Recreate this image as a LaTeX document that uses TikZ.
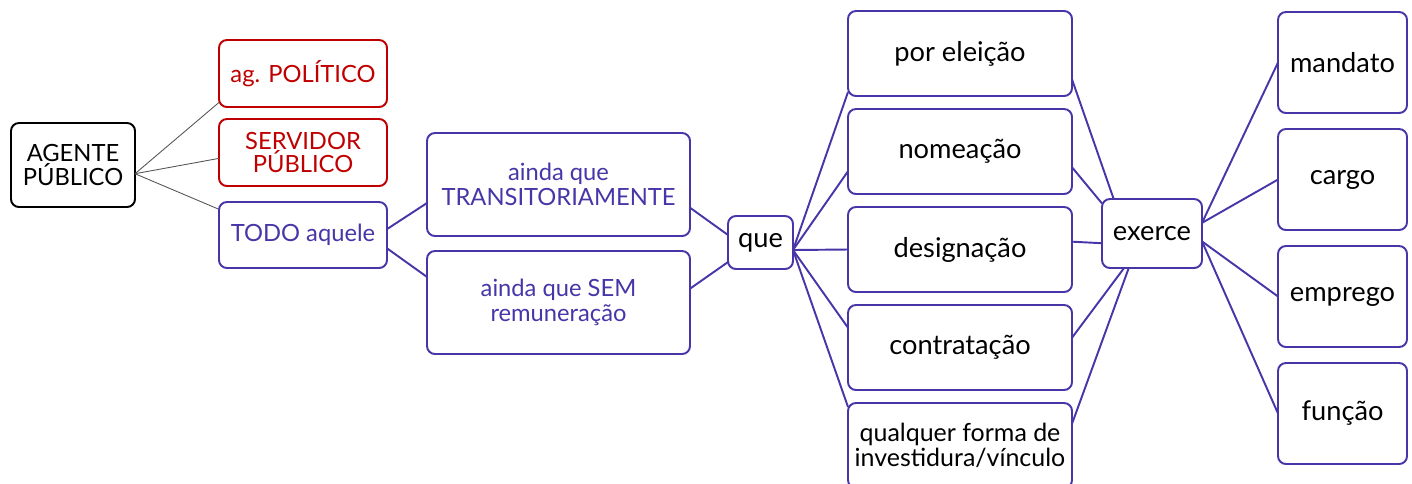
\documentclass[tikz,border=0pt]{standalone}
\usepackage{fontspec}
\setmainfont{Lato}
\usepackage{tikz}
\usetikzlibrary{positioning}
\definecolor{roxo}{RGB}{70,54,168}
\definecolor{vermelho}{RGB}{192,0,0}
\definecolor{traco}{RGB}{85,85,85}
\tikzset{
	caixa/.style={
		draw, rectangle, rounded corners=4.5pt, line width=1.1pt,
		align=center, inner sep=2pt, outer sep=0pt, fill=white
	},
	raiz/.style={
		caixa, draw=black, text=black,
		minimum width=2.48cm, minimum height=1.68cm,
		font=\fontsize{13.5}{13.5}\selectfont
	},
	tipo/.style={
		caixa, draw=vermelho, text=vermelho,
		minimum width=3.36cm, minimum height=1.34cm,
		font=\fontsize{13.5}{13.5}\selectfont
	},
	aquele/.style={
		caixa, draw=roxo, text=roxo,
		minimum width=3.36cm, minimum height=1.32cm,
		font=\fontsize{13.5}{14}\selectfont
	},
	ressalva/.style={
		caixa, draw=roxo, text=roxo,
		minimum width=5.26cm, minimum height=2.06cm,
		font=\fontsize{13.5}{14.3}\selectfont
	},
	forma/.style={
		caixa, draw=roxo, text=black,
		minimum width=4.48cm, minimum height=1.70cm,
		font=\fontsize{15.5}{14.3}\selectfont
	},
	posto/.style={
		caixa, draw=roxo, text=black,
		minimum width=2.58cm, minimum height=2.02cm,
		font=\fontsize{15.5}{16}\selectfont
	},
	fio/.style={draw=traco, line width=0.5pt},
	elo/.style={draw=roxo, line width=1.1pt}
}

\begin{document}
\begin{tikzpicture}
	\useasboundingbox (0,0) rectangle (28.24,-9.66);
	\clip (0,0) rectangle (28.24,-9.66);
	% primeiro nivel
	\node[raiz] (agente) at (1.46,-3.30) {AGENTE\\PÚBLICO};
	\node[tipo] (politico) at (6.06,-1.47) {ag. POLÍTICO};
	\node[tipo] (servidor) [below=0.24cm of politico] {SERVIDOR\\PÚBLICO};
	\node[aquele] (todo) [below=0.32cm of servidor] {TODO aquele};
	\node[ressalva] (transit) at (11.17,-3.69) {ainda que\\TRANSITORIAMENTE};
	\node[ressalva] (semrem) [below=0.30cm of transit] {ainda que SEM\\remuneração};
	\node[caixa, draw=roxo, minimum width=1.30cm, minimum height=1.06cm,
		font=\fontsize{15.5}{16}\selectfont] (que) at (15.21,-4.85) {que};
	% formas de investidura
	\node[forma] (eleicao) at (19.20,-1.07) {por eleição};
	\node[forma] (nomeacao) [below=0.26cm of eleicao] {nomeação};
	\node[forma] (designacao) [below=0.26cm of nomeacao] {designação};
	\node[forma] (contratacao) [below=0.26cm of designacao] {contratação};
	\node[forma, font=\fontsize{14.2}{14.3}\selectfont] (qualquer) [below=0.26cm of contratacao] {qualquer forma de\\investidura/vínculo};
	\node[caixa, draw=roxo, minimum width=2.00cm, minimum height=1.38cm,
		font=\fontsize{15.5}{16}\selectfont] (exerce) at (23.04,-4.67) {exerce};
	% o que exerce
	\node[posto] (mandato) at (26.85,-1.25) {mandato};
	\node[posto] (cargo) [below=0.32cm of mandato] {cargo};
	\node[posto] (emprego) [below=0.32cm of cargo] {emprego};
	\node[posto] (funcao) [below=0.32cm of emprego] {função};

	\draw[fio] (agente.-8) -- (politico.199);
	\draw[fio] (agente.-8) -- (servidor.184);
	\draw[fio] (agente.-8) -- (todo.163);
	\draw[elo] (todo.4) -- (transit.188);
	\draw[elo] (todo.-9) -- (semrem.169);
	\draw[elo] (transit.-10) -- (que.167);
	\draw[elo] (semrem.6) -- (que.211);
	\draw[elo] (que.-13) -- (eleicao.199);
	\draw[elo] (que.-13) -- (nomeacao.190);
	\draw[elo] (que.-13) -- (designacao.west);
	\draw[elo] (que.-13) -- (contratacao.170);
	\draw[elo] (que.-13) -- (qualquer.161);
	\draw[elo] (eleicao.-13) -- (exerce.138);
	\draw[elo] (nomeacao.-8) -- (exerce.149);
	\draw[elo] (designacao.4) -- (exerce.191);
	\draw[elo] (contratacao.5) -- (exerce.231);
	\draw[elo] (qualquer.11) -- (exerce.236);
	\draw[elo] (exerce.12) -- (mandato.west);
	\draw[elo] (exerce.12) -- (cargo.west);
	\draw[elo] (exerce.-9) -- (emprego.west);
	\draw[elo] (exerce.-9) -- (funcao.west);
\end{tikzpicture}
\end{document}
